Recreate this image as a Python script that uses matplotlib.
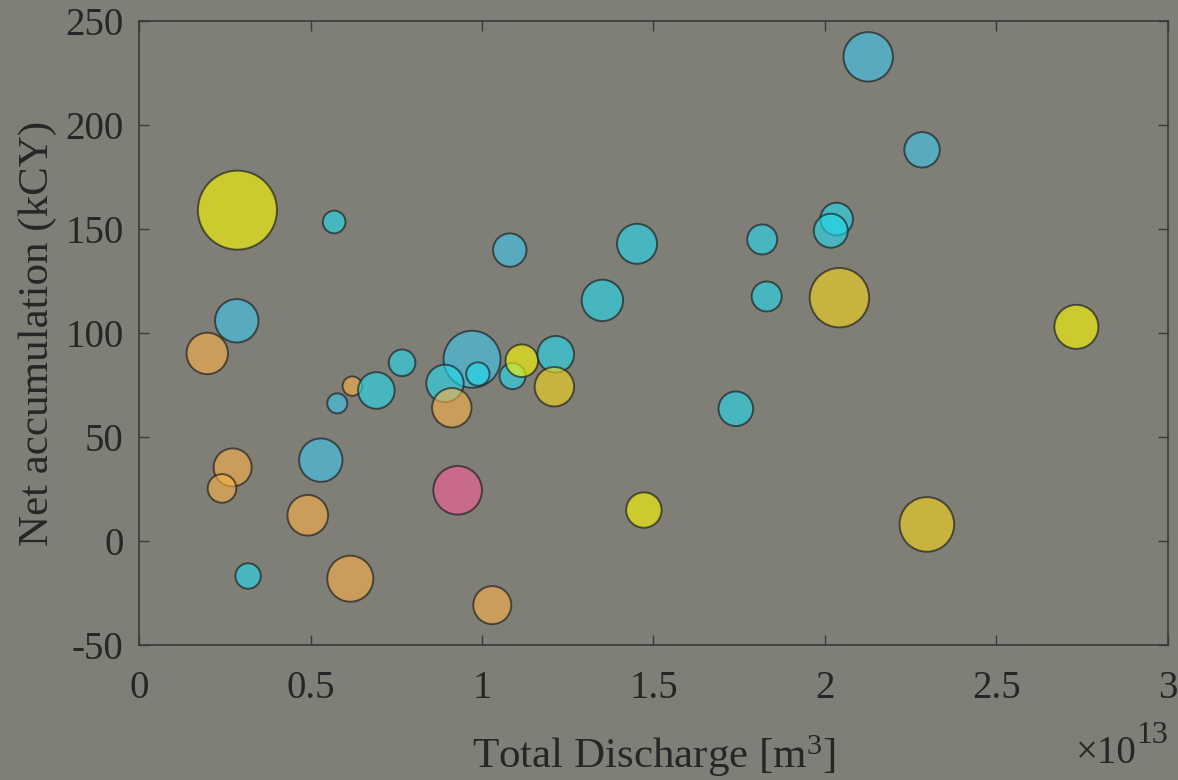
import numpy as np
import matplotlib
matplotlib.use("Agg")
import matplotlib.pyplot as plt
from matplotlib.colors import to_rgba

# total discharge in units of 1e13 m^3
discharge = [0.287, 0.569, 1.081, 0.285, 0.199, 0.767, 0.622, 0.692, 0.578, 0.971,
             0.892, 0.912, 0.988, 1.089, 1.116, 1.215, 1.211, 1.351, 1.452, 1.740,
             1.817, 1.830, 2.034, 2.017, 2.126, 2.283, 2.042, 2.733, 2.297, 1.472,
             0.929, 0.530, 0.273, 0.242, 0.492, 0.318, 0.616, 1.030]
# net accumulation (kCY)
accumulation = [159.1, 153.4, 139.9, 105.9, 90.2, 85.7, 74.5, 72.4, 66.2, 87.4,
                75.8, 64.1, 80.3, 79.3, 86.7, 89.8, 74.2, 115.7, 142.9, 63.6,
                145.0, 117.6, 154.8, 149.2, 232.8, 188.1, 117.0, 103.0, 8.0, 14.9,
                24.4, 38.9, 35.4, 25.3, 12.4, -16.8, -18.1, -30.8]
# bubble magnitude (marker radius, px)
magnitude = [39.5, 11.3, 16.7, 21.7, 20.7, 13.3, 9.7, 18.3, 10.0, 28.5,
             18.7, 19.7, 11.7, 13.0, 16.3, 18.3, 19.7, 20.7, 20.0, 17.3,
             15.0, 15.0, 16.3, 17.0, 24.7, 17.7, 29.7, 22.0, 27.3, 17.7,
             24.3, 21.7, 19.0, 14.3, 20.3, 12.7, 23.0, 19.0]
category = ["yellow", "cyan", "blue", "blue", "orange", "cyan", "orange", "cyan", "blue", "blue",
            "cyan", "orange", "cyan", "cyan", "yellow", "cyan", "gold", "cyan", "cyan", "cyan",
            "cyan", "cyan", "cyan", "cyan", "blue", "blue", "gold", "yellow", "gold", "yellow",
            "pink", "blue", "orange", "orange", "orange", "cyan", "orange", "orange"]

x_ticks = [0, 0.5, 1, 1.5, 2, 2.5, 3]
x_ticklabels = ["0", "0.5", "1", "1.5", "2", "2.5", "3"]
y_ticks = [-50, 0, 50, 100, 150, 200, 250]

palette = {
    "yellow": "#ffff00",
    "cyan": "#22dcf0",
    "blue": "#3ec8ef",
    "orange": "#fdb348",
    "gold": "#fad71c",
    "pink": "#f95f9a",
}

bg = "#7f7f77"
ink = "#262626"

plt.rcParams["font.family"] = ["Liberation Serif", "DejaVu Serif"]
plt.rcParams["mathtext.fontset"] = "custom"
plt.rcParams["mathtext.rm"] = "Liberation Serif"
plt.rcParams["mathtext.it"] = "Liberation Serif:italic"
plt.rcParams["axes.unicode_minus"] = False

fig = plt.figure(figsize=(11.78, 7.8), dpi=100, facecolor=bg)
ax = fig.add_axes([0.118, 0.173, 0.8735, 0.80], facecolor=bg)

px2pt = 72 / fig.dpi
sizes = [(2 * r * px2pt) ** 2 for r in magnitude]
faces = [to_rgba(palette[c], 0.6) for c in category]

ax.scatter(discharge, accumulation, s=sizes, c=faces,
           edgecolors=[(0.1, 0.1, 0.1, 0.65)], linewidths=1.4, zorder=3)

ax.set_xlim(0, 3)
ax.set_ylim(-50, 250)
ax.set_xticks(x_ticks)
ax.set_xticklabels(x_ticklabels)
ax.set_yticks(y_ticks)

for sp in ax.spines.values():
    sp.set_color("#3a3a3a")
    sp.set_linewidth(1.2)
ax.tick_params(direction="in", length=7.5, width=1.0, color="#3a3a3a",
               top=True, right=True, labelsize=28, labelcolor=ink)
ax.tick_params(axis="x", pad=18)
ax.tick_params(axis="y", pad=11)

ax.set_xlabel(r"Total Discharge [m$^3$]", fontsize=31, color=ink)
ax.set_ylabel("Net accumulation (kCY)", fontsize=31, color=ink)
ax.xaxis.set_label_coords(0.5, -0.141)
ax.yaxis.set_label_coords(-0.08, 0.5)

# axis multiplier, drawn as base and exponent
ax.annotate("\u00d710", xy=(1.0, -0.189), xycoords="axes fraction",
            xytext=(-31, 0), textcoords="offset pixels",
            ha="right", va="baseline", fontsize=28, color=ink)
ax.annotate("13", xy=(1.0, -0.189), xycoords="axes fraction",
            xytext=(0, 20), textcoords="offset pixels",
            ha="right", va="baseline", fontsize=23, color=ink)

fig.savefig("out.png", dpi=100, facecolor=bg)
